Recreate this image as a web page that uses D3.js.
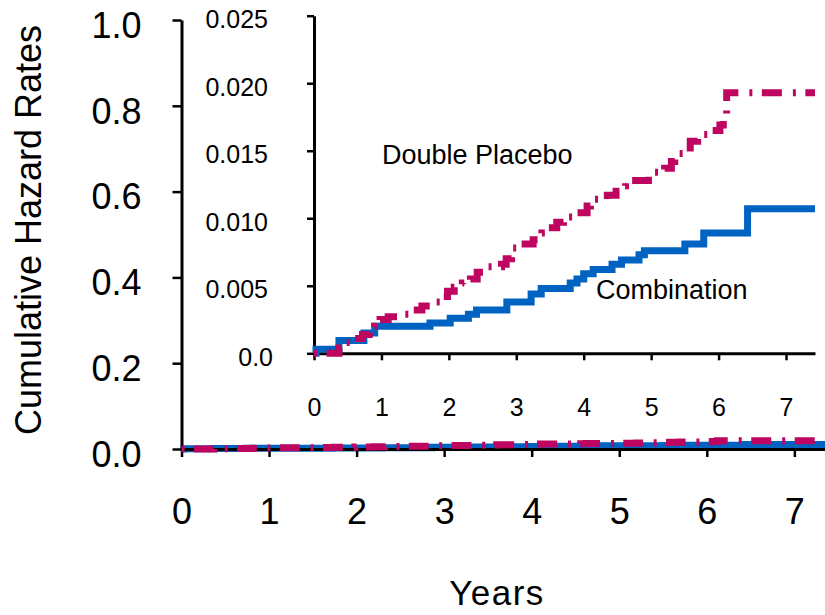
<!DOCTYPE html>
<html>
<head>
<meta charset="utf-8">
<script src="https://cdn.jsdelivr.net/npm/d3@7"></script>
<style>
  html, body { margin: 0; padding: 0; background: #fff; }
  svg { display: block; }
  text { font-family: "Liberation Sans", Arial, sans-serif; fill: #000; }
</style>
</head>
<body>
<svg id="chart" width="825" height="615"></svg>
<script>
// ---- data ----
const xTicks = [0, 1, 2, 3, 4, 5, 6, 7];
const mainYTicks = [0, 0.2, 0.4, 0.6, 0.8, 1.0];
const mainYLabels = ["0.0", "0.2", "0.4", "0.6", "0.8", "1.0"];
const insetYTicks = [0, 0.005, 0.010, 0.015, 0.020, 0.025];
const insetYLabels = ["0.0", "0.005", "0.010", "0.015", "0.020", "0.025"];

// Combination (solid blue) — step function: time of step, value after step
const comboTimes  = [0, 0.03, 0.37, 0.74, 0.90, 1.72, 2.02, 2.29, 2.41, 2.86, 3.22, 3.37, 3.80, 3.90, 4.00, 4.14, 4.42, 4.56, 4.82, 4.90, 5.50, 5.78, 6.43, 7.43];
const comboValues = [0, 0.0003, 0.00094, 0.0015, 0.0020, 0.00225, 0.0026, 0.0029, 0.0032, 0.0038, 0.0044, 0.0048, 0.0052, 0.0055, 0.0059, 0.0062, 0.0066, 0.0069, 0.0073, 0.0076, 0.0081, 0.0089, 0.0107, 0.0107];

// Double Placebo (dash-dot magenta)
const placeboTimes  = [0, 0.37, 0.43, 0.60, 0.72, 0.82, 0.90, 0.98, 1.10, 1.30, 1.45, 1.60, 1.75, 1.88, 1.98, 2.08, 2.20, 2.32, 2.42, 2.55, 2.78, 2.85, 2.93, 3.05, 3.25, 3.38, 3.48, 3.60, 3.70, 3.90, 4.05, 4.10, 4.35, 4.48, 4.56, 4.62, 4.96, 5.20, 5.30, 5.35, 5.50, 5.58, 5.69, 5.88, 6.02, 6.07, 6.12, 7.43];
const placeboValues = [0, 0.0004, 0.0008, 0.0011, 0.0014, 0.0017, 0.0020, 0.0025, 0.0027, 0.0029, 0.0032, 0.0035, 0.0038, 0.0042, 0.0046, 0.0049, 0.0052, 0.0055, 0.0060, 0.0064, 0.0066, 0.0070, 0.0078, 0.0081, 0.0084, 0.0089, 0.0093, 0.0097, 0.0101, 0.0104, 0.0109, 0.0114, 0.0117, 0.0120, 0.0124, 0.0128, 0.0134, 0.0137, 0.0142, 0.0148, 0.0152, 0.0157, 0.0162, 0.0165, 0.0169, 0.0176, 0.0193, 0.0193];

const BLUE = "#0062C1";
const MAGENTA = "#BE0660";
const DASH = "3,9.5,20,11";

const combo = comboTimes.map((t, i) => ({ t, v: comboValues[i] }));
const placebo = placeboTimes.map((t, i) => ({ t, v: placeboValues[i] }));

const svg = d3.select("#chart");

// ---- main chart ----
const mx = d3.scaleLinear().domain([0, 7.35]).range([181.5, 825]);
const my = d3.scaleLinear().domain([0, 1]).range([449, 20]);

function styleAxis(g, fontSize) {
  g.select(".domain").attr("stroke", "#000").attr("stroke-width", 3);
  g.selectAll(".tick line").attr("stroke", "#000").attr("stroke-width", 2.5);
  g.selectAll(".tick text").attr("font-size", fontSize)
    .attr("font-family", "'Liberation Sans', Arial, sans-serif").attr("fill", "#000");
}

const mainLine = d3.line().x(d => mx(d.t)).y(d => my(d.v)).curve(d3.curveStepAfter);

svg.append("path").datum(combo).attr("d", mainLine)
  .attr("fill", "none").attr("stroke", BLUE).attr("stroke-width", 7);

const mYAxis = svg.append("g").attr("transform", `translate(${mx(0)},0)`)
  .call(d3.axisLeft(my).tickValues(mainYTicks).tickFormat((d, i) => mainYLabels[i])
    .tickSize(9).tickSizeOuter(0).tickPadding(31));
styleAxis(mYAxis, 36);
mYAxis.selectAll(".tick text").attr("dy", "0.48em");

const mXAxis = svg.append("g").attr("transform", `translate(0,${my(0)})`)
  .call(d3.axisBottom(mx).tickValues(xTicks).tickFormat(d3.format("d"))
    .tickSize(8).tickSizeOuter(0).tickPadding(41));
styleAxis(mXAxis, 36);

svg.append("path").datum(placebo).attr("d", mainLine)
  .attr("fill", "none").attr("stroke", MAGENTA).attr("stroke-width", 7)
  .attr("stroke-dasharray", DASH);

svg.append("text").attr("transform", "translate(41,230) rotate(-90)")
  .attr("text-anchor", "middle").attr("font-size", 36).text("Cumulative Hazard Rates");

svg.append("text").attr("x", 497).attr("y", 605).attr("text-anchor", "middle")
  .attr("font-size", 35).attr("letter-spacing", 1.5).text("Years");

// ---- inset chart ----
const ix = d3.scaleLinear().domain([0, 7.43]).range([314, 815]);
const iy = d3.scaleLinear().domain([0, 0.025]).range([353.3, 15.7]);
const insetLine = d3.line().x(d => ix(d.t)).y(d => iy(d.v)).curve(d3.curveStepAfter);

const iYAxis = svg.append("g").attr("transform", `translate(${ix(0)},0)`)
  .call(d3.axisLeft(iy).tickValues(insetYTicks).tickFormat((d, i) => insetYLabels[i])
    .tickSize(7).tickSizeOuter(0).tickPadding(39));
styleAxis(iYAxis, 25);
iYAxis.selectAll(".tick text").attr("dy", "0.48em")
  .attr("dx", d => d === 0 ? 5 : 0);

const iXAxis = svg.append("g").attr("transform", `translate(0,${iy(0)})`)
  .call(d3.axisBottom(ix).tickValues(xTicks).tickFormat(d3.format("d"))
    .tickSize(7).tickSizeOuter(0).tickPadding(38));
styleAxis(iXAxis, 25);

svg.append("path").datum(combo).attr("d", insetLine)
  .attr("fill", "none").attr("stroke", BLUE).attr("stroke-width", 7);

svg.append("path").datum(placebo).attr("d", insetLine)
  .attr("fill", "none").attr("stroke", MAGENTA).attr("stroke-width", 7)
  .attr("stroke-dasharray", DASH);

svg.append("text").attr("x", 382).attr("y", 164).attr("font-size", 27).text("Double Placebo");
svg.append("text").attr("x", 596).attr("y", 299).attr("font-size", 27).text("Combination");
</script>
</body>
</html>
